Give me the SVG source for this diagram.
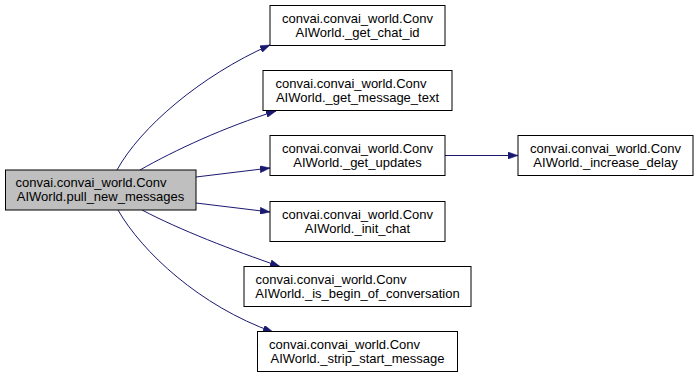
<svg xmlns="http://www.w3.org/2000/svg" width="699" height="379" viewBox="0 0 699 379">
  <style>
    .node rect { fill: #ffffff; stroke: #000000; stroke-width: 1; }
    .node.root rect { fill: #bfbfbf; }
    .node text { font-family: "Liberation Sans", Arial, Helvetica, sans-serif; font-size: 13px; fill: #000000; }
    .node text.l2 { text-anchor: middle; }
    .edges path { fill: none; stroke: #191970; stroke-width: 1; marker-end: url(#arrow); }
  </style>
  <defs>
    <marker id="arrow" markerUnits="userSpaceOnUse" viewBox="0 0 10 7" markerWidth="10" markerHeight="7" refX="10" refY="3.5" orient="auto">
      <path d="M0,0 L10,3.5 L0,7 z" fill="#191970" stroke="#191970" stroke-width="0.5"/>
    </marker>
  </defs>

  <rect x="0" y="0" width="699" height="379" fill="#ffffff"/>

  <!-- call edges -->
  <g id="edges" class="edges">
    <path d="M117,170 C140,128 200,76 270,45"/>
    <path d="M140,170 C175,150 225,127 276,111"/>
    <path d="M196,177 L270,168"/>
    <path d="M196,203 L270,212"/>
    <path d="M142,210 C180,230 232,250 280,266.5"/>
    <path d="M118,210 C142,252 200,306 273,332"/>
    <path d="M444,155.5 L518,155.5"/>
  </g>

  <g id="pull_new_messages" class="node root">
    <rect x="5.5" y="170" width="190.5" height="40"/>
    <text x="15.5" y="187">convai.convai_world.Conv</text>
    <text class="l2" x="100.5" y="201">AIWorld.pull_new_messages</text>
  </g>

  <g id="get_chat_id" class="node">
    <rect x="270" y="5.5" width="175" height="40"/>
    <text x="282" y="22.5">convai.convai_world.Conv</text>
    <text class="l2" x="357.5" y="36.5">AIWorld._get_chat_id</text>
  </g>

  <g id="get_message_text" class="node">
    <rect x="263" y="70.5" width="189" height="40"/>
    <text x="275.5" y="87.5">convai.convai_world.Conv</text>
    <text class="l2" x="357.5" y="101.5">AIWorld._get_message_text</text>
  </g>

  <g id="get_updates" class="node">
    <rect x="270" y="135.5" width="175" height="40"/>
    <text x="282" y="152.5">convai.convai_world.Conv</text>
    <text class="l2" x="357.5" y="166.5">AIWorld._get_updates</text>
  </g>

  <g id="init_chat" class="node">
    <rect x="270" y="201.5" width="175" height="40"/>
    <text x="282" y="218.5">convai.convai_world.Conv</text>
    <text class="l2" x="357.5" y="232.5">AIWorld._init_chat</text>
  </g>

  <g id="is_begin_of_conversation" class="node">
    <rect x="244" y="266.5" width="227" height="40"/>
    <text x="255.5" y="283.5">convai.convai_world.Conv</text>
    <text class="l2" x="357.5" y="297.5">AIWorld._is_begin_of_conversation</text>
  </g>

  <g id="strip_start_message" class="node">
    <rect x="257.5" y="331.5" width="200" height="40"/>
    <text x="269" y="348.5">convai.convai_world.Conv</text>
    <text class="l2" x="357.5" y="362.5">AIWorld._strip_start_message</text>
  </g>

  <g id="increase_delay" class="node">
    <rect x="518" y="135.5" width="175" height="40"/>
    <text x="530" y="152.5">convai.convai_world.Conv</text>
    <text class="l2" x="605.5" y="166.5">AIWorld._increase_delay</text>
  </g>
</svg>
